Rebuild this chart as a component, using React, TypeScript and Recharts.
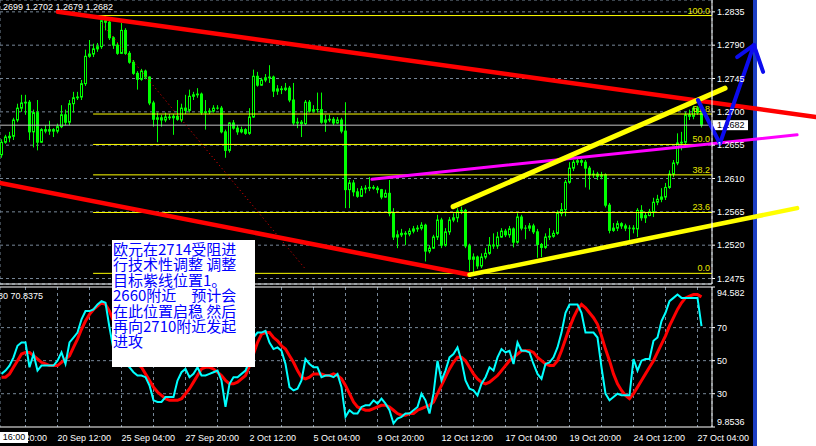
import React from 'react';
import { ComposedChart, Bar, Line, XAxis, YAxis, CartesianGrid, ReferenceLine } from 'recharts';

// EURUSD H4, 17 Sep – 27 Oct
const opens = [1.2642,1.2659,1.2665,1.2667,1.2689,1.2705,1.2712,1.2713,1.2673,1.2699,
 1.2659,1.2676,1.2674,1.2676,1.2674,1.2680,1.2696,1.2686,1.2711,1.2719,
 1.2720,1.2738,1.2775,1.2778,1.2785,1.2788,1.2823,1.2821,1.2800,1.2790,
 1.2779,1.2810,1.2779,1.2767,1.2752,1.2744,1.2755,1.2747,1.2712,1.2690,
 1.2692,1.2689,1.2693,1.2692,1.2694,1.2689,1.2705,1.2702,1.2721,1.2723,
 1.2724,1.2699,1.2700,1.2701,1.2705,1.2705,1.2673,1.2648,1.2685,1.2678,
 1.2673,1.2676,1.2671,1.2693,1.2748,1.2736,1.2743,1.2746,1.2747,1.2728,
 1.2731,1.2730,1.2732,1.2716,1.2685,1.2686,1.2684,1.2713,1.2701,1.2703,
 1.2703,1.2686,1.2689,1.2690,1.2685,1.2689,1.2674,1.2595,1.2604,1.2592,
 1.2586,1.2596,1.2597,1.2598,1.2597,1.2595,1.2585,1.2590,1.2563,1.2531,
 1.2534,1.2536,1.2535,1.2539,1.2542,1.2543,1.2547,1.2512,1.2516,1.2531,
 1.2554,1.2520,1.2538,1.2554,1.2557,1.2566,1.2567,1.2519,1.2501,1.2504,
 1.2492,1.2504,1.2509,1.2520,1.2519,1.2531,1.2539,1.2534,1.2542,1.2524,
 1.2558,1.2543,1.2543,1.2546,1.2538,1.2521,1.2517,1.2531,1.2532,1.2536,
 1.2563,1.2568,1.2605,1.2624,1.2632,1.2634,1.2632,1.2624,1.2615,1.2616,
 1.2613,1.2615,1.2574,1.2540,1.2543,1.2549,1.2546,1.2543,1.2543,1.2542,
 1.2567,1.2557,1.2560,1.2565,1.2578,1.2582,1.2585,1.2598,1.2616,1.2631,
 1.2658,1.2659,1.2696,1.2694,1.2705,1.2699];

const highs = [1.2663,1.2669,1.2673,1.2692,1.2711,1.2723,1.2723,1.2716,1.2703,1.2716,
 1.2678,1.2682,1.2688,1.2678,1.2684,1.2709,1.2703,1.2716,1.2727,1.2727,
 1.2743,1.2784,1.2797,1.2792,1.2793,1.2824,1.2830,1.2824,1.2802,1.2793,
 1.2820,1.2813,1.2782,1.2770,1.2755,1.2758,1.2757,1.2748,1.2715,1.2699,
 1.2696,1.2699,1.2697,1.2697,1.2716,1.2711,1.2723,1.2730,1.2727,1.2732,
 1.2726,1.2716,1.2705,1.2709,1.2709,1.2708,1.2676,1.2686,1.2689,1.2682,
 1.2680,1.2678,1.2705,1.2757,1.2754,1.2746,1.2751,1.2763,1.2749,1.2736,
 1.2735,1.2739,1.2735,1.2739,1.2692,1.2689,1.2716,1.2716,1.2709,1.2726,
 1.2726,1.2696,1.2696,1.2693,1.2693,1.2692,1.2713,1.2608,1.2608,1.2597,
 1.2600,1.2601,1.2612,1.2601,1.2600,1.2596,1.2595,1.2608,1.2570,1.2540,
 1.2542,1.2539,1.2543,1.2546,1.2547,1.2551,1.2549,1.2520,1.2534,1.2561,
 1.2557,1.2543,1.2558,1.2563,1.2570,1.2572,1.2569,1.2522,1.2509,1.2506,
 1.2509,1.2516,1.2531,1.2536,1.2538,1.2543,1.2542,1.2546,1.2544,1.2563,
 1.2561,1.2547,1.2550,1.2549,1.2542,1.2523,1.2536,1.2543,1.2540,1.2567,
 1.2577,1.2608,1.2632,1.2635,1.2638,1.2636,1.2635,1.2627,1.2621,1.2619,
 1.2619,1.2617,1.2577,1.2550,1.2553,1.2551,1.2549,1.2547,1.2547,1.2570,
 1.2574,1.2565,1.2569,1.2584,1.2588,1.2597,1.2604,1.2621,1.2635,1.2671,
 1.2673,1.2700,1.2703,1.2708,1.2708,1.2702];

const lows = [1.2638,1.2657,1.2659,1.2662,1.2686,1.2700,1.2696,1.2662,1.2652,1.2648,
 1.2658,1.2671,1.2669,1.2666,1.2671,1.2678,1.2682,1.2682,1.2699,1.2716,
 1.2716,1.2735,1.2773,1.2774,1.2781,1.2785,1.2810,1.2797,1.2785,1.2777,
 1.2778,1.2777,1.2765,1.2750,1.2730,1.2742,1.2744,1.2709,1.2680,1.2659,
 1.2680,1.2686,1.2689,1.2669,1.2688,1.2686,1.2697,1.2699,1.2716,1.2719,
 1.2696,1.2676,1.2697,1.2699,1.2703,1.2671,1.2638,1.2645,1.2676,1.2669,
 1.2671,1.2669,1.2669,1.2692,1.2734,1.2735,1.2740,1.2739,1.2720,1.2723,
 1.2724,1.2728,1.2713,1.2682,1.2678,1.2666,1.2682,1.2699,1.2699,1.2699,
 1.2684,1.2673,1.2686,1.2682,1.2684,1.2671,1.2570,1.2570,1.2586,1.2584,
 1.2585,1.2590,1.2593,1.2595,1.2590,1.2582,1.2584,1.2559,1.2527,1.2516,
 1.2531,1.2520,1.2532,1.2536,1.2538,1.2540,1.2498,1.2509,1.2515,1.2527,
 1.2516,1.2518,1.2534,1.2551,1.2551,1.2562,1.2516,1.2485,1.2482,1.2488,
 1.2489,1.2501,1.2507,1.2515,1.2515,1.2530,1.2531,1.2530,1.2517,1.2522,
 1.2540,1.2528,1.2539,1.2535,1.2503,1.2504,1.2515,1.2527,1.2530,1.2534,
 1.2559,1.2559,1.2603,1.2620,1.2628,1.2627,1.2598,1.2595,1.2611,1.2608,
 1.2609,1.2571,1.2536,1.2538,1.2539,1.2542,1.2539,1.2527,1.2536,1.2531,
 1.2553,1.2550,1.2559,1.2558,1.2574,1.2578,1.2581,1.2596,1.2612,1.2628,
 1.2648,1.2652,1.2689,1.2690,1.2696,1.2679];

const closes = [1.2659,1.2666,1.2667,1.2689,1.2705,1.2712,1.2713,1.2673,1.2699,1.2659,
 1.2676,1.2674,1.2676,1.2674,1.2680,1.2696,1.2686,1.2711,1.2719,1.2720,
 1.2738,1.2775,1.2778,1.2785,1.2788,1.2823,1.2821,1.2800,1.2790,1.2779,
 1.2810,1.2779,1.2767,1.2752,1.2744,1.2755,1.2747,1.2712,1.2690,1.2692,
 1.2689,1.2693,1.2692,1.2694,1.2690,1.2705,1.2702,1.2721,1.2723,1.2724,
 1.2699,1.2700,1.2701,1.2705,1.2705,1.2673,1.2648,1.2685,1.2678,1.2673,
 1.2676,1.2671,1.2693,1.2748,1.2736,1.2743,1.2746,1.2747,1.2728,1.2731,
 1.2730,1.2732,1.2716,1.2685,1.2686,1.2684,1.2713,1.2701,1.2703,1.2703,
 1.2686,1.2689,1.2690,1.2685,1.2689,1.2674,1.2595,1.2604,1.2592,1.2586,
 1.2596,1.2597,1.2598,1.2597,1.2595,1.2585,1.2590,1.2563,1.2531,1.2534,
 1.2536,1.2535,1.2539,1.2542,1.2543,1.2547,1.2512,1.2516,1.2531,1.2554,
 1.2520,1.2538,1.2554,1.2557,1.2566,1.2567,1.2519,1.2501,1.2504,1.2492,
 1.2504,1.2509,1.2520,1.2519,1.2531,1.2539,1.2534,1.2542,1.2524,1.2558,
 1.2543,1.2543,1.2546,1.2538,1.2521,1.2517,1.2531,1.2532,1.2536,1.2563,
 1.2568,1.2605,1.2624,1.2632,1.2634,1.2632,1.2624,1.2615,1.2616,1.2613,
 1.2615,1.2574,1.2540,1.2543,1.2549,1.2546,1.2543,1.2543,1.2542,1.2567,
 1.2557,1.2560,1.2565,1.2578,1.2582,1.2585,1.2598,1.2616,1.2631,1.2658,
 1.2659,1.2696,1.2694,1.2705,1.2699,1.2682];

// Stochastic oscillator: main line and signal line
const stochMain = [42,44,47,52,59,61,61,46,54,44,
 47,47,47,47,50,55,48,61,64,67,
 75,80,80,81,84,86,85,70,57,51,
 49,48,46,43,41,41,40,35,26,25,
 25,28,28,28,38,43,45,40,42,46,
 41,41,42,43,44,38,22,36,40,40,
 42,44,50,64,67,67,68,61,57,58,
 56,48,34,32,33,38,51,48,46,46,
 40,41,41,40,42,34,16,20,18,18,
 22,23,23,26,24,27,24,20,12,15,
 16,18,18,20,22,30,26,18,30,50,
 38,44,52,54,58,50,38,33,32,29,
 36,40,46,44,52,57,55,56,48,61,
 56,56,55,48,42,39,48,49,52,58,
 67,79,84,84,84,79,67,67,67,64,
 46,30,26,28,30,29,29,29,51,44,
 50,51,51,62,64,74,79,86,88,90,
 88,88,88,88,88,70.8375];

const stochSignal = [40,40,42,46,50,54,55,55,53,51,
 49,48,47,47,47,49,51,53,58,63,
 69,74,78,81,83,85,84,80,74,68,
 62,57,53,50,48,46,42,38,34,31,
 29,27,26,26,26,27,30,33,37,41,
 45,46,46,45,43,41,38,36,36,37,
 39,41,47,54,61,66,67,67,64,62,
 59,57,53,49,44,40,39,40,42,42,
 42,41,41,42,41,39,35,30,25,22,
 21,20,20,21,22,23,23,22,20,18,
 17,17,18,18,20,21,22,23,25,30,
 35,40,45,49,52,52,50,46,42,39,
 37,36,37,39,41,44,47,50,52,54,
 56,56,56,55,52,50,48,47,47,50,
 56,63,70,76,81,84,82,79,76,72,
 65,57,50,42,36,32,29,27,30,34,
 38,42,46,50,55,60,65,71,76,81,
 85,88,89,90,90,88.628];

// axis ticks
const priceTicks = [1.2475, 1.252, 1.2565, 1.261, 1.2655, 1.27, 1.2745, 1.279, 1.2835];
const oscTicks = [9.8536, 30, 50, 70, 94.582];
const gridBars = [6,14,22,30,38,46,54,62,70,78,86,94,102,110,118,126,134,142,150,158,166,174];
const timeTickBars = [-2, 14, 30, 46, 62, 78, 94, 110, 126, 142, 158, 174];
const timeLabels = ['17 Sep 20:00', '20 Sep 12:00', '25 Sep 04:00', '27 Sep 20:00', '2 Oct 12:00', '5 Oct 04:00',
  '9 Oct 20:00', '12 Oct 12:00', '17 Oct 04:00', '19 Oct 20:00', '24 Oct 12:00', '27 Oct 04:00'];

// Fibonacci retracement
const fibRatios = [0, 0.236, 0.382, 0.5, 0.618, 1];
const fibLabels = ['0.0', '23.6', '38.2', '50.0', '61.8', '100.0'];
const fibStartBar = 22.9;

// hand-drawn trend lines (bar index, price)
const resistanceLine = [{ x: 14.1, y: 1.2835 }, { x: 203.6, y: 1.2693 }];
const supportLine = [{ x: -0.4, y: 1.2604 }, { x: 117, y: 1.248 }];
const risingLow = [{ x: 117, y: 1.248 }, { x: 198.9, y: 1.257 }];
const risingHigh = [{ x: 112.9, y: 1.2572 }, { x: 180.9, y: 1.2732 }];
const targetLine = [{ x: 92.6, y: 1.2609 }, { x: 198.9, y: 1.2669 }];
const guideLine = [{ x: 25.1, y: 1.2819 }, { x: 76.1, y: 1.2487 }];
const arrowPath = [{ x: 174.1, y: 1.2716 }, { x: 179.6, y: 1.2657 }, { x: 188.1, y: 1.279 }];
const arrowWings = [{ x: 183.9, y: 1.2774 }, { x: 190.4, y: 1.2754 }];

const noteLines = ['欧元在2714受阻进', '行技术性调整 调整', '目标紫线位置1。', '2660附近　预计会', '在此位置启稳 然后', '再向2710附近发起', '进攻'];

const X_DOMAIN: [number, number] = [-0.375, 177.625];
const PRICE_DOMAIN: [number, number] = [1.24676, 1.2851];
const OSC_DOMAIN: [number, number] = [9.8536, 94.582];

const FONT = '"Liberation Sans", Arial, sans-serif';
const GRID = '#778899';
const LIME = '#00ff00';

const bars = opens.map((o, i) => ({
  i,
  open: o,
  high: highs[i],
  low: lows[i],
  close: closes[i],
  range: [lows[i], highs[i]],
  k: stochMain[i],
  d: stochSignal[i],
}));

const fibHigh = Math.max(...highs);
const fibLow = Math.min(...lows);
const last = bars[bars.length - 1];

const Candle = (props: any) => {
  const { x, y, width, height, payload } = props;
  if (x == null || y == null) return null;
  const cx = Math.round(x + width / 2 - 0.5) + 0.5;
  const { open, high, low, close } = payload;
  const span = high - low;
  const py = (v: number) => (span === 0 ? y : y + ((high - v) / span) * height);
  const yo = py(open);
  const yc = py(close);
  const top = Math.min(yo, yc);
  const bot = Math.max(yo, yc);
  const bull = close > open;
  return (
    <g>
      <line x1={cx} x2={cx} y1={y} y2={y + height} stroke={LIME} strokeWidth={1} />
      {bull ? (
        <rect x={cx - 1} y={top} width={2} height={Math.max(bot - top, 0.5)} fill="#000" stroke={LIME} strokeWidth={1} />
      ) : (
        <rect x={cx - 1.5} y={top - 0.5} width={3} height={Math.max(bot - top, 0) + 1} fill={LIME} />
      )}
    </g>
  );
};

const PriceTick = (props: any) => {
  const { x, y, payload } = props;
  return (
    <text x={x} y={y + 3} fill="#fff" fontSize={9} fontFamily={FONT}>
      {Number(payload.value).toFixed(4)}
    </text>
  );
};

const OscTick = (props: any) => {
  const { x, y, payload } = props;
  const v = Number(payload.value);
  let dy = 3;
  if (v >= 90) dy = 9;
  if (v < 10) dy = -2;
  return (
    <text x={x} y={y + dy} fill="#fff" fontSize={9} fontFamily={FONT}>
      {String(v)}
    </text>
  );
};

const TimeTick = (props: any) => {
  const { x, y, payload } = props;
  const idx = timeTickBars.indexOf(payload.value);
  if (idx < 0) return null;
  return (
    <text x={x} y={y + 14} fill="#fff" fontSize={9} fontFamily={FONT}>
      {timeLabels[idx]}
    </text>
  );
};

const fibLabel = (text: string) => (p: any) => {
  const vb = p.viewBox || {};
  return (
    <text x={(vb.x || 0) + (vb.width || 0) - 2} y={(vb.y || 0) - 2} textAnchor="end" fill="#e8e800" fontSize={9} fontFamily={FONT}>
      {text}
    </text>
  );
};

const bidLabel = (p: any) => {
  const vb = p.viewBox || {};
  const right = (vb.x || 0) + (vb.width || 0);
  const yy = vb.y || 0;
  return (
    <g>
      <rect x={right + 1} y={yy - 5} width={35} height={10} fill="#fff" />
      <text x={right + 5} y={yy + 3} fill="#000" fontSize={9} fontFamily={FONT}>
        {last.close.toFixed(4)}
      </text>
    </g>
  );
};

const thick = (pts: { x: number; y: number }[], color: string, w: number, key: string) => (
  <ReferenceLine
    key={key}
    segment={pts as any}
    stroke={color}
    strokeWidth={w}
    strokeLinecap="round"
    ifOverflow="visible"
  />
);

export default function App() {
  return (
    <div style={{ position: 'absolute', left: 0, top: 0, width: 816, height: 446, background: '#fff', overflow: 'hidden' }}>
      <div style={{ position: 'absolute', left: 0, top: 0, width: 753, height: 446, background: '#000' }} />
      <div style={{ position: 'absolute', left: 753, top: 0, width: 4, height: 446, background: '#1d3fc4' }} />

      {/* price panel */}
      <div style={{ position: 'absolute', left: 0, top: 0 }}>
        <ComposedChart width={816} height={285} data={bars} margin={{ top: 0, right: 64, bottom: 0, left: 0 }}>
          <CartesianGrid stroke={GRID} strokeDasharray="3 3" />
          <XAxis
            dataKey="i"
            type="number"
            domain={X_DOMAIN}
            allowDataOverflow
            ticks={gridBars}
            tick={false}
            tickLine={false}
            height={1}
            axisLine={{ stroke: '#fff' }}
          />
          <YAxis
            orientation="right"
            width={40}
            type="number"
            domain={PRICE_DOMAIN}
            allowDataOverflow
            ticks={priceTicks}
            tick={<PriceTick />}
            tickSize={3}
            tickMargin={2}
            tickLine={{ stroke: '#fff' }}
            axisLine={{ stroke: '#fff' }}
            interval={0}
          />
          {fibRatios.map((r, n) => {
            const lvl = fibLow + r * (fibHigh - fibLow);
            return (
              <ReferenceLine
                key={'fib' + n}
                segment={[{ x: fibStartBar, y: lvl }, { x: X_DOMAIN[1], y: lvl }] as any}
                stroke="#ffff00"
                strokeWidth={1}
                ifOverflow="visible"
                label={fibLabel(fibLabels[n])}
              />
            );
          })}
          <ReferenceLine y={last.close} stroke="#c0c0c0" strokeWidth={1} label={bidLabel} />
          <ReferenceLine segment={guideLine as any} stroke="#ff0000" strokeWidth={1} strokeDasharray="1 3" ifOverflow="visible" />
          <Bar dataKey="range" barSize={4} shape={<Candle />} isAnimationActive={false} />
          {thick(resistanceLine, '#ff0000', 4.5, 'res')}
          {thick(supportLine, '#ff0000', 4.5, 'sup')}
          {thick(targetLine, '#ff00ff', 3, 'tgt')}
          {thick(risingHigh, '#ffff00', 5, 'rh')}
          {thick(risingLow, '#ffff00', 4.5, 'rl')}
          {thick([arrowPath[0], arrowPath[1]], '#0c0cee', 4, 'a1')}
          {thick([arrowPath[1], arrowPath[2]], '#0c0cee', 4, 'a2')}
          {thick([arrowWings[0], arrowPath[2]], '#0c0cee', 4, 'a3')}
          {thick([arrowWings[1], arrowPath[2]], '#0c0cee', 4, 'a4')}
        </ComposedChart>
      </div>

      {/* oscillator panel */}
      <div style={{ position: 'absolute', left: 0, top: 286 }}>
        <ComposedChart width={816} height={160} data={bars} margin={{ top: 1, right: 64, bottom: 0, left: 0 }}>
          <CartesianGrid stroke={GRID} strokeDasharray="3 3" horizontal={false} />
          <XAxis
            dataKey="i"
            type="number"
            domain={X_DOMAIN}
            allowDataOverflow
            ticks={[-2, ...gridBars]}
            interval={0}
            tick={<TimeTick />}
            tickLine={false}
            tickSize={0}
            tickMargin={0}
            height={19}
            axisLine={{ stroke: '#fff' }}
          />
          <YAxis
            orientation="right"
            width={40}
            type="number"
            domain={OSC_DOMAIN}
            allowDataOverflow
            ticks={oscTicks}
            interval={0}
            tick={<OscTick />}
            tickSize={3}
            tickMargin={2}
            tickLine={{ stroke: '#fff' }}
            axisLine={{ stroke: '#fff' }}
          />
          {[30, 50, 70].map((v) => (
            <ReferenceLine key={'g' + v} y={v} stroke={GRID} strokeDasharray="3 3" />
          ))}
          <ReferenceLine y={OSC_DOMAIN[1]} stroke="#fff" strokeWidth={1} />
          <Line dataKey="d" type="linear" stroke="#ff0000" strokeWidth={3} dot={false} isAnimationActive={false} />
          <Line dataKey="k" type="linear" stroke="#00ffff" strokeWidth={2} dot={false} isAnimationActive={false} />
        </ComposedChart>
      </div>

      {/* panel captions */}
      <div style={{ position: 'absolute', right: 816 - 113, top: 2, color: '#fff', font: `9px ${FONT}`, lineHeight: '10px', whiteSpace: 'nowrap' }}>
        {`${last.open.toFixed(4)} ${last.high.toFixed(4)} ${last.low.toFixed(4)} ${last.close.toFixed(4)}`}
      </div>
      <div style={{ position: 'absolute', right: 816 - 43, top: 291, color: '#fff', font: `9px ${FONT}`, lineHeight: '10px', whiteSpace: 'nowrap' }}>
        {`${stochSignal[stochSignal.length - 1].toFixed(4)} ${stochMain[stochMain.length - 1].toFixed(4)}`}
      </div>
      <div style={{ position: 'absolute', left: 0, top: 432, width: 28, height: 11, background: '#fff', color: '#000', font: `9px ${FONT}`, lineHeight: '11px', textAlign: 'center' }}>
        16:00
      </div>

      {/* analyst note */}
      <div
        style={{
          position: 'absolute',
          left: 112,
          top: 240,
          width: 143,
          height: 127,
          background: '#fff',
          color: '#0000ff',
          fontFamily: '"Noto Sans CJK SC", sans-serif',
          fontSize: 15,
          lineHeight: '15.4px',
          paddingTop: 1,
          paddingLeft: 1,
          boxSizing: 'border-box',
          whiteSpace: 'pre',
        }}
      >
        {noteLines.map((t, n) => (
          <div key={n}>{t}</div>
        ))}
      </div>
    </div>
  );
}
